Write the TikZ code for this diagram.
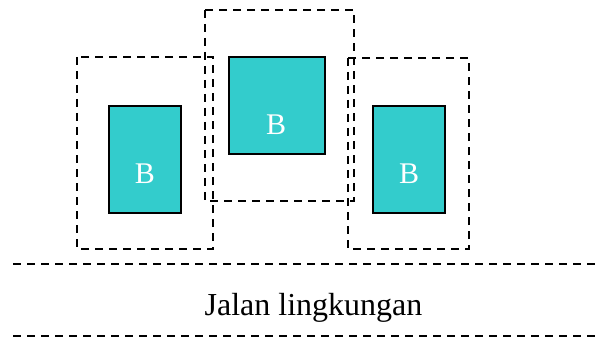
\documentclass[tikz,border=0pt]{standalone}
\usepackage{fontspec}
\setmainfont{Liberation Serif}
\definecolor{tealB}{RGB}{51,204,204}
\begin{document}
\begin{tikzpicture}[x=1pt,y=-1pt,
  zone/.style={draw=black,line width=2pt,dash pattern=on 8pt off 6pt},
  bldg/.style={draw=black,line width=2pt,fill=tealB},
  road/.style={draw=black,line width=2pt,dash pattern=on 8pt off 6pt},
  blabel/.style={text=white,font=\fontsize{30}{30}\selectfont,anchor=base,inner sep=0pt}]
\useasboundingbox (0,0) rectangle (601,339);
\fill[white] (0,0) rectangle (601,339);
% zones
\draw[zone] (77,57) rectangle (213,249);
\draw[zone] (205,10) rectangle (354,201);
\draw[zone] (348,58) rectangle (469,249);
% buildings
\draw[bldg] (109,106) rectangle (181,213);
\draw[bldg] (229,57) rectangle (325,154);
\draw[bldg] (373,106) rectangle (445,213);
\node[blabel] (b1) at (145,183) {B};
\node[blabel] (b2) at (276,135) {B};
\node[blabel] (b3) at (409,183) {B};
% road
\coordinate (r1a) at (13,264);
\coordinate (r1b) at (601,264);
\coordinate (r2a) at (13,336);
\coordinate (r2b) at (601,336);
\draw[road] (r1a) -- (r1b);
\draw[road] (r2a) -- (r2b);
\node[font=\fontsize{32}{32}\selectfont,anchor=base,inner sep=0pt] (road) at (313.5,315) {Jalan lingkungan};
\end{tikzpicture}
\end{document}
